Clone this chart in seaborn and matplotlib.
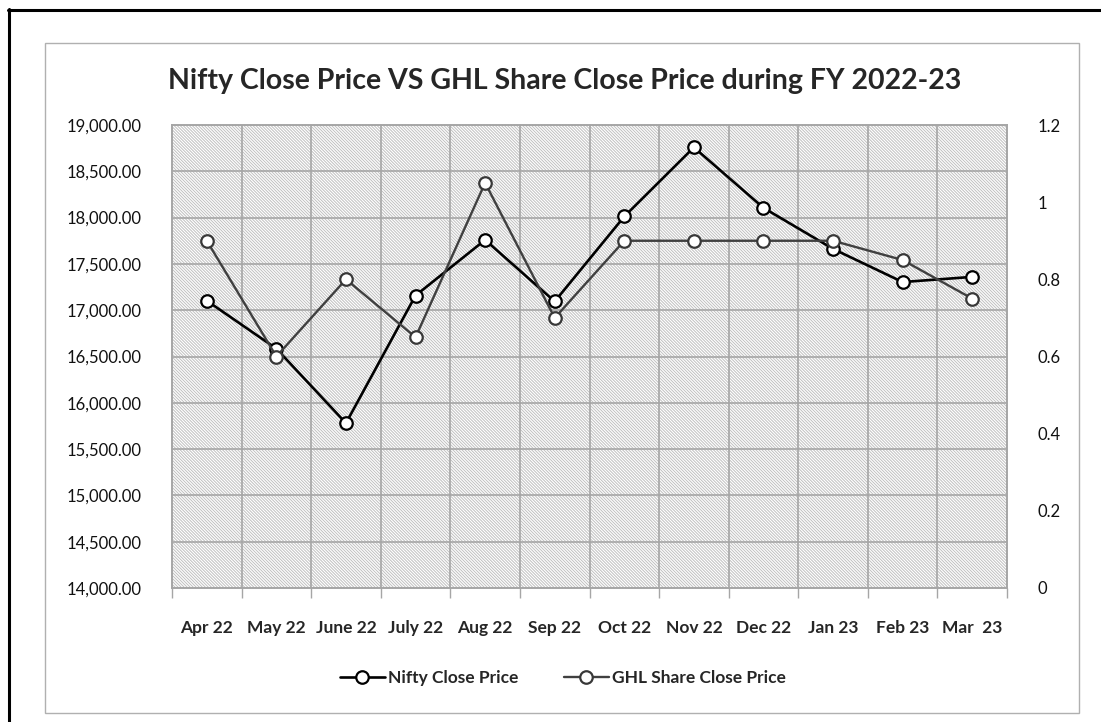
import matplotlib
matplotlib.use("Agg")
import matplotlib.pyplot as plt
import matplotlib.ticker as mticker
from matplotlib.lines import Line2D
from matplotlib.patches import Rectangle
import numpy as np
import pandas as pd
import seaborn as sns

# data
months = ["Apr 22", "May 22", "June 22", "July 22", "Aug 22", "Sep 22",
          "Oct 22", "Nov 22", "Dec 22", "Jan 23", "Feb 23", "Mar  23"]
nifty_close = [17102.55, 16584.55, 15780.25, 17158.25, 17759.30, 17094.35,
               18012.20, 18758.35, 18105.30, 17662.15, 17303.95, 17359.75]
ghl_close = [0.90, 0.60, 0.80, 0.65, 1.05, 0.70,
             0.90, 0.90, 0.90, 0.90, 0.85, 0.75]

left_ticks = np.arange(14000, 19001, 500)
right_ticks = [0, 0.2, 0.4, 0.6, 0.8, 1.0, 1.2]

df = pd.DataFrame({"Month": months, "Nifty": nifty_close, "GHL": ghl_close})

sns.set_theme(style="white")
plt.rcParams["font.family"] = ["Lato", "DejaVu Sans"]
plt.rcParams["hatch.linewidth"] = 0.7

W, H = 1101, 722
fig = plt.figure(figsize=(W / 100, H / 100), dpi=100)
fig.patch.set_facecolor("white")

# axes placed to match the reference plot area (pixels)
x0, x1, y0, y1 = 172, 1007, 125, 588
ax = fig.add_axes([x0 / W, 1 - y1 / H, (x1 - x0) / W, (y1 - y0) / H])

grid_col = "#a6a6a6"

# hatched plot background
ax.add_patch(Rectangle((0, 0), 1, 1, transform=ax.transAxes, facecolor="white",
                       edgecolor="#c0c0c0", hatch="\\" * 11, linewidth=0, zorder=0.1))

sns.lineplot(data=df, x="Month", y="Nifty", ax=ax, sort=False, color="black",
             linewidth=1.9, marker="o", markersize=9, markerfacecolor="white",
             markeredgecolor="black", markeredgewidth=1.6,
             label="Nifty Close Price", zorder=3)

ax2 = ax.twinx()
sns.lineplot(data=df, x="Month", y="GHL", ax=ax2, sort=False, color="#404040",
             linewidth=1.7, marker="o", markersize=9, markerfacecolor="white",
             markeredgecolor="#383838", markeredgewidth=1.6,
             label="GHL Share Close Price", zorder=3)

n = len(months)
ax.set_xlim(-0.5, n - 0.5)
ax.set_ylim(14000, 19000)
ax2.set_ylim(0, 1.2)
ax.set_yticks(left_ticks)
ax2.set_yticks(right_ticks)
ax.yaxis.set_major_formatter(mticker.FuncFormatter(lambda v, p: f"{v:,.2f}"))
ax2.yaxis.set_major_formatter(mticker.FuncFormatter(lambda v, p: f"{v:g}"))

# category boundaries as vertical grid + outward ticks
ax.set_xticks(np.arange(-0.5, n, 1.0), minor=True)
ax.grid(False)
ax.grid(axis="y", which="major", color=grid_col, linewidth=1.2)
ax.grid(axis="x", which="minor", color=grid_col, linewidth=1.2)
ax.set_axisbelow(True)
ax.tick_params(axis="x", which="major", length=0, pad=23, labelsize=12.5)
ax.tick_params(axis="x", which="minor", length=7, width=1, color=grid_col,
               direction="out", bottom=True)
ax.tick_params(axis="y", length=0, pad=22, labelsize=12, labelcolor="#111111")
ax2.tick_params(axis="y", length=0, pad=22, labelsize=12, labelcolor="#111111")
for lbl in ax.get_xticklabels():
    lbl.set_fontweight("bold")

ax.set_xlabel("")
ax.set_ylabel("")
ax2.set_ylabel("")
for a in (ax, ax2):
    for s in a.spines.values():
        s.set_color(grid_col)
        s.set_linewidth(1.2)

ax.set_title("Nifty Close Price VS GHL Share Close Price during FY 2022-23",
             fontsize=20.5, fontweight="bold", pad=26, x=0.47)

# legend below the plot
handles = ax.get_legend().legend_handles + ax2.get_legend().legend_handles
labels = ["Nifty Close Price", "GHL Share Close Price"]
ax.get_legend().remove()
ax2.get_legend().remove()
fig.legend(handles, labels, loc="center", bbox_to_anchor=(563 / W, 1 - 678 / H),
           ncol=2, frameon=False, handlelength=2.6, columnspacing=2.6,
           handletextpad=0.2, prop={"weight": "bold", "size": 12.5})

# chart area frame and outer black border
fig.add_artist(Rectangle((45 / W, 1 - 713 / H), (1079 - 45) / W, (713 - 43) / H,
                         transform=fig.transFigure, fill=False,
                         edgecolor="#b0b0b0", linewidth=1))
fig.add_artist(Line2D([8.5 / W, 8.5 / W], [1 - 9 / H, 0], transform=fig.transFigure,
                      color="black", linewidth=2.2))
fig.add_artist(Line2D([8 / W, 1], [1 - 9.5 / H, 1 - 9.5 / H], transform=fig.transFigure,
                      color="black", linewidth=2.2))

fig.savefig("out.png", dpi=100)
